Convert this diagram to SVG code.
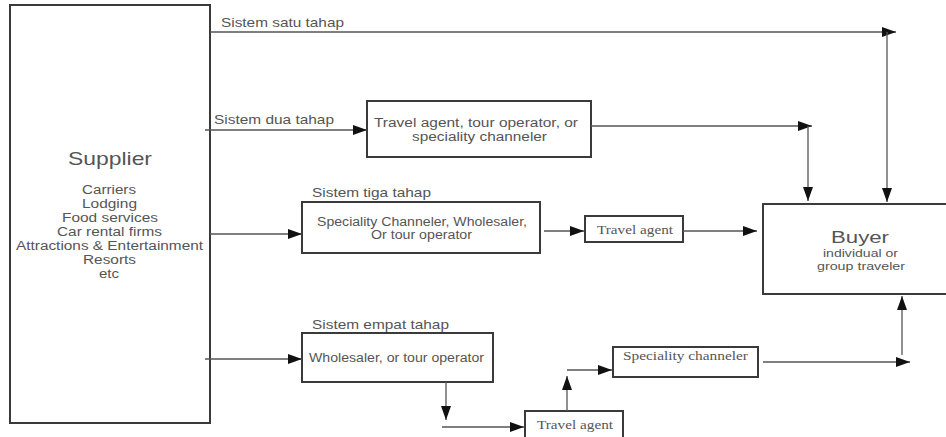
<svg xmlns="http://www.w3.org/2000/svg" width="946" height="437" viewBox="0 0 946 437">
<style>
.box{fill:#fff;stroke:#3a3a3a;stroke-width:2}
.con{fill:none;stroke:#555;stroke-width:1.3}
.t{font-family:"Liberation Sans",Arial,sans-serif;fill:#555}
.s{font-family:"Liberation Serif","Times New Roman",serif;fill:#555}
</style>
<defs>
<marker id="ah" markerUnits="userSpaceOnUse" markerWidth="14" markerHeight="10" refX="14" refY="5" orient="auto">
<path d="M0,0 L14,5 L0,10 z" fill="#111"/>
</marker>
</defs>
<rect width="946" height="437" fill="#fff"/>
<g id="supplier">
<rect class="box" x="10" y="5" width="200" height="418"/>
<text class="t" x="68" y="165" font-size="19" textLength="84" lengthAdjust="spacingAndGlyphs">Supplier</text>
<g font-size="12">
<text class="t" x="82" y="194" textLength="54" lengthAdjust="spacingAndGlyphs">Carriers</text>
<text class="t" x="82" y="208" textLength="55" lengthAdjust="spacingAndGlyphs">Lodging</text>
<text class="t" x="62" y="222" textLength="96" lengthAdjust="spacingAndGlyphs">Food services</text>
<text class="t" x="57" y="236" textLength="105" lengthAdjust="spacingAndGlyphs">Car rental firms</text>
<text class="t" x="16" y="250" textLength="187" lengthAdjust="spacingAndGlyphs">Attractions &amp; Entertainment</text>
<text class="t" x="83" y="264" textLength="53" lengthAdjust="spacingAndGlyphs">Resorts</text>
<text class="t" x="99" y="278" textLength="20" lengthAdjust="spacingAndGlyphs">etc</text>
</g>
</g>
<g id="travel-agent-tour-operator">
<rect class="box" x="367" y="101" width="224" height="56"/>
<text class="t" x="374" y="127" font-size="12" textLength="204" lengthAdjust="spacingAndGlyphs">Travel agent, tour operator, or</text>
<text class="t" x="412" y="141" font-size="12" textLength="135" lengthAdjust="spacingAndGlyphs">speciality channeler</text>
</g>
<g id="speciality-wholesaler">
<rect class="box" x="302" y="202" width="238" height="51"/>
<text class="t" x="317" y="226" font-size="12" textLength="210" lengthAdjust="spacingAndGlyphs">Speciality Channeler, Wholesaler,</text>
<text class="t" x="371" y="239" font-size="12" textLength="101" lengthAdjust="spacingAndGlyphs">Or tour operator</text>
</g>
<g id="travel-agent-1">
<rect class="box" x="585" y="216" width="98" height="26"/>
<text class="s" x="597" y="234" font-size="12.5" textLength="76" lengthAdjust="spacingAndGlyphs">Travel agent</text>
</g>
<g id="buyer">
<rect class="box" x="763" y="204" width="190" height="90"/>
<text class="t" x="831" y="243" font-size="17" textLength="58" lengthAdjust="spacingAndGlyphs">Buyer</text>
<text class="t" x="823" y="257" font-size="10.5" textLength="75" lengthAdjust="spacingAndGlyphs">individual or</text>
<text class="t" x="817" y="270" font-size="10.5" textLength="88" lengthAdjust="spacingAndGlyphs">group traveler</text>
</g>
<g id="wholesaler-tour-operator">
<rect class="box" x="302" y="333" width="191" height="49"/>
<text class="t" x="309" y="362" font-size="12" textLength="175" lengthAdjust="spacingAndGlyphs">Wholesaler, or tour operator</text>
</g>
<g id="speciality-channeler">
<rect class="box" x="613" y="347" width="145" height="30"/>
<text class="s" x="623" y="360" font-size="12.5" textLength="125" lengthAdjust="spacingAndGlyphs">Speciality channeler</text>
</g>
<g id="travel-agent-2">
<rect class="box" x="525" y="411" width="98" height="30"/>
<text class="s" x="537" y="429" font-size="12.5" textLength="76" lengthAdjust="spacingAndGlyphs">Travel agent</text>
</g>
<g id="labels">
<text class="t" x="221" y="27" font-size="13" textLength="123" lengthAdjust="spacingAndGlyphs">Sistem satu tahap</text>
<text class="t" x="214" y="124" font-size="13" textLength="120" lengthAdjust="spacingAndGlyphs">Sistem dua tahap</text>
<text class="t" x="312" y="197" font-size="13" textLength="119" lengthAdjust="spacingAndGlyphs">Sistem tiga tahap</text>
<text class="t" x="312" y="329" font-size="13" textLength="137" lengthAdjust="spacingAndGlyphs">Sistem empat tahap</text>
</g>
<g id="connectors">
<path class="con" d="M210,32 H896" marker-end="url(#ah)"/>
<path class="con" d="M887,32 V202" marker-end="url(#ah)"/>
<path class="con" d="M205,130 H367" marker-end="url(#ah)"/>
<path class="con" d="M591,126 H812" marker-end="url(#ah)"/>
<path class="con" d="M808,126 V201" marker-end="url(#ah)"/>
<path class="con" d="M210,234 H302" marker-end="url(#ah)"/>
<path class="con" d="M544,231 H584" marker-end="url(#ah)"/>
<path class="con" d="M683,231 H757" marker-end="url(#ah)"/>
<path class="con" d="M205,359 H302" marker-end="url(#ah)"/>
<path class="con" d="M446,382 V420" marker-end="url(#ah)"/>
<path class="con" d="M442,427 H524" marker-end="url(#ah)"/>
<path class="con" d="M567,411 V376" marker-end="url(#ah)"/>
<path class="con" d="M567,370 H612" marker-end="url(#ah)"/>
<path class="con" d="M763,362 H910" marker-end="url(#ah)"/>
<path class="con" d="M902,355 V296" marker-end="url(#ah)"/>
</g>
</svg>
